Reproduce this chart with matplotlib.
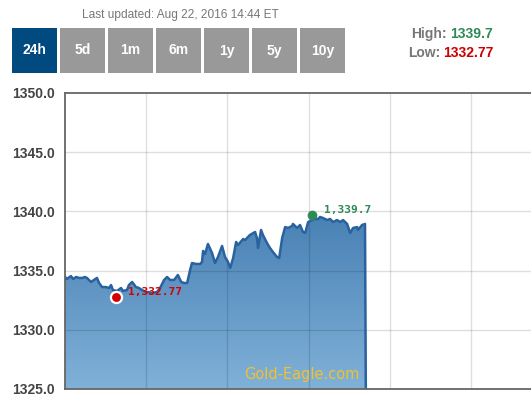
import matplotlib
matplotlib.use("Agg")
import matplotlib.pyplot as plt
import numpy as np
from matplotlib.patches import Rectangle
from matplotlib.path import Path
from matplotlib.patches import PathPatch

# ---------------- data ----------------
hours = [0.00, 0.07, 0.22, 0.30, 0.41, 0.52, 0.63, 0.74, 0.81, 0.96, 1.07, 1.18, 1.26, 1.37,
         1.51, 1.63, 1.70, 1.77, 1.92, 2.07, 2.14, 2.29, 2.36, 2.48, 2.62, 2.73, 2.84, 2.99,
         3.10, 3.21, 3.40, 3.51, 3.66, 3.77, 3.88, 4.03, 4.17, 4.29, 4.40, 4.51, 4.62, 4.69,
         4.84, 4.99, 5.06, 5.10, 5.17, 5.28, 5.43, 5.54, 5.65, 5.80, 5.91, 6.02, 6.10, 6.21,
         6.32, 6.39, 6.58, 6.65, 6.83, 7.02, 7.09, 7.13, 7.24, 7.31, 7.46, 7.57, 7.68, 7.83,
         7.91, 8.02, 8.13, 8.24, 8.39, 8.42, 8.57, 8.68, 8.79, 8.87, 8.98, 9.12, 9.24, 9.35,
         9.42, 9.53, 9.68, 9.79, 9.90, 10.05, 10.16, 10.27, 10.42, 10.53, 10.64, 10.79, 10.82,
         10.97, 11.08, 11.12]
prices = [1334.48, 1334.29, 1334.54, 1334.29, 1334.46, 1334.38, 1334.38, 1334.46, 1334.38,
          1334.04, 1334.21, 1334.38, 1333.95, 1333.61, 1333.61, 1333.53, 1333.78, 1333.36,
          1333.28, 1333.53, 1333.28, 1333.36, 1333.78, 1334.04, 1333.61, 1333.53, 1333.36,
          1333.19, 1333.19, 1333.11, 1333.19, 1333.53, 1334.21, 1334.46, 1334.21, 1334.21,
          1334.63, 1334.04, 1333.95, 1333.95, 1335.05, 1335.64, 1335.56, 1335.56, 1335.73,
          1336.66, 1336.40, 1337.25, 1336.49, 1335.64, 1336.15, 1337.08, 1336.15, 1335.73,
          1335.22, 1336.06, 1337.42, 1337.16, 1337.67, 1337.58, 1338.01, 1338.26, 1337.75,
          1336.91, 1338.43, 1338.01, 1337.33, 1336.91, 1336.57, 1336.15, 1336.06, 1337.75,
          1338.68, 1338.60, 1338.77, 1338.94, 1338.60, 1338.85, 1338.26, 1338.18, 1339.10,
          1339.27, 1339.36, 1339.36, 1339.53, 1339.44, 1339.27, 1339.36, 1339.10, 1339.27,
          1339.10, 1339.27, 1338.94, 1338.18, 1338.60, 1338.68, 1338.43, 1338.85, 1338.94,
          1320.00]

high_value = 1339.7
high_hour = 9.12
low_value = 1332.77
low_hour = 1.88

y_ticks = [1325.0, 1330.0, 1335.0, 1340.0, 1345.0, 1350.0]
x_grid = [3, 6, 9, 12, 15]
buttons = ["24h", "5d", "1m", "6m", "1y", "5y", "10y"]
updated_text = "Last updated: Aug 22, 2016 14:44 ET"

# ---------------- figure ----------------
W, H = 531, 397
fig = plt.figure(figsize=(W / 100, H / 100), dpi=100)
fig.patch.set_facecolor("white")

def fx(px):
    return px / W

def fy(py):
    return 1 - py / H

ax = fig.add_axes([fx(65), fy(389), fx(531) - fx(65), fy(93) - fy(389)])
ax.set_xlim(0, 17.21)
ax.set_ylim(1325, 1350)
ax.set_facecolor("white")

# grid (drawn above the fill with transparency, like the reference)
for yv in y_ticks[1:-1]:
    ax.axhline(yv, color=(0, 0, 0, 0.13), lw=1, zorder=4)
for xv in x_grid:
    ax.axvline(xv, color=(0, 0, 0, 0.13), lw=1, zorder=4)

# gradient area fill
t = np.array(hours)
p = np.array(prices)
p_clip = np.clip(p, 1324, 1351)
verts = [(t[0], 1324)] + list(zip(t, p_clip)) + [(t[-1], 1324), (t[0], 1324)]
codes = [Path.MOVETO] + [Path.LINETO] * (len(verts) - 2) + [Path.CLOSEPOLY]
poly = PathPatch(Path(verts, codes), facecolor="none", edgecolor="none")
ax.add_patch(poly)
top_c = np.array([72, 128, 180]) / 255
bot_c = np.array([128, 177, 216]) / 255
n = 256
frac = np.linspace(0, 1, n)[:, None]
grad = top_c[None, :] * (1 - frac) + bot_c[None, :] * frac
grad = grad[:, None, :]
im = ax.imshow(grad, extent=[t[0], t[-1], 1325, 1340], aspect="auto",
               origin="upper", zorder=2, interpolation="bilinear")
im.set_clip_path(poly)

ax.plot(t, p, color="#2a62a0", lw=1.8, zorder=5, solid_joinstyle="round")

# high/low markers
ax.plot([low_hour], [low_value], "o", ms=8, mfc="#d40000", mec="white", mew=1.6, zorder=6)
ax.plot([high_hour], [high_value], "o", ms=7, mfc="#2e8b57", mec="#2e8b57", mew=0, zorder=6)
ax.annotate(f"{low_value:,.2f}", (low_hour, low_value), xytext=(9, 3.5),
            textcoords="offset points", color="#d40000", fontsize=8,
            family="DejaVu Sans Mono", fontweight="bold", va="center", ha="left", zorder=7)
ax.annotate(f"{high_value:,.1f}", (high_hour, high_value), xytext=(9, 3.5),
            textcoords="offset points", color="#2e8b57", fontsize=8,
            family="DejaVu Sans Mono", fontweight="bold", va="center", ha="left", zorder=7)

# watermark
ax.text(302 / 531 * 0 + (302 - 65) / (531 - 65), (389 - 375) / 296, "Gold-Eagle.com",
        transform=ax.transAxes, color="#f2c12e", fontsize=10.5, ha="center", va="center",
        family="DejaVu Sans", zorder=7)

# spines & ticks
for s in ["top", "left", "bottom"]:
    ax.spines[s].set_color("#666666")
    ax.spines[s].set_linewidth(1.3)
    ax.spines[s].set_zorder(8)
ax.spines["right"].set_visible(False)
ax.set_xticks([])
ax.set_yticks(y_ticks)
ax.set_yticklabels([f"{v:.1f}" for v in y_ticks])
ax.tick_params(axis="y", length=0, pad=7.5, labelsize=10, labelcolor="#444444")
for lab in ax.get_yticklabels():
    lab.set_fontweight("bold")
    lab.set_family("Liberation Sans")

# header text
fig.text(fx(180), fy(15), updated_text, ha="center", va="center", fontsize=8.6,
         color="#777777", family="Liberation Sans")

# buttons
for i, b in enumerate(buttons):
    x0 = 12 + 48 * i
    col = "#004a80" if i == 0 else "#999999"
    fig.patches.append(Rectangle((fx(x0), fy(73)), fx(45), 45 / H,
                                 transform=fig.transFigure, facecolor=col,
                                 edgecolor="none"))
    fig.text(fx(x0 + 22.5), fy(50.5), b, ha="center", va="center", color="white",
             fontsize=10, fontweight="bold", family="Liberation Sans")

# high / low summary
fig.text(fx(447), fy(34), "High:", ha="right", va="center", fontsize=10,
         fontweight="bold", color="#777777", family="Liberation Sans")
fig.text(fx(450), fy(34), f"{high_value}", ha="left", va="center", fontsize=10,
         fontweight="bold", color="#2e8b57", family="Liberation Sans")
fig.text(fx(440), fy(53), "Low:", ha="right", va="center", fontsize=10,
         fontweight="bold", color="#777777", family="Liberation Sans")
fig.text(fx(443), fy(53), f"{low_value}", ha="left", va="center", fontsize=10,
         fontweight="bold", color="#cc0000", family="Liberation Sans")

fig.savefig("out.png", dpi=100, facecolor="white")
